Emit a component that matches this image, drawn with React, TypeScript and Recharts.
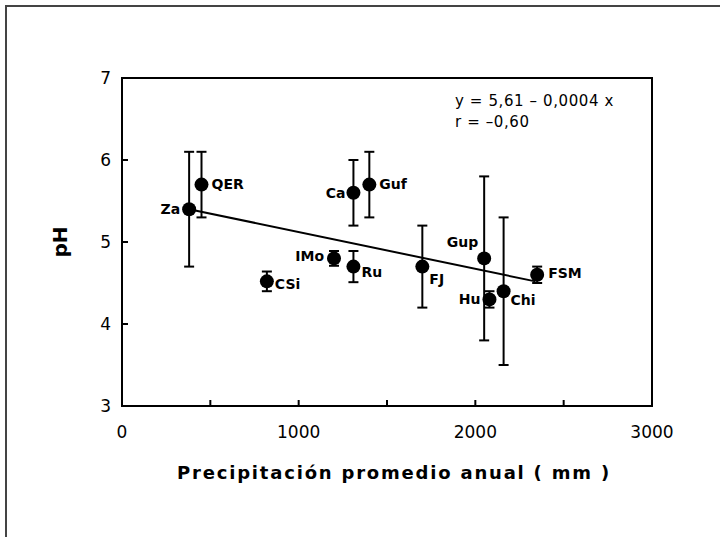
import React from 'react';
import {
  ScatterChart,
  Scatter,
  XAxis,
  YAxis,
  ErrorBar,
  ReferenceArea,
  ReferenceLine,
} from 'recharts';

// sites
const sites = ['Za', 'QER', 'Ca', 'Guf', 'IMo', 'Ru', 'CSi', 'FJ', 'Gup', 'Hu', 'Chi', 'FSM'];
const precipitation = [380, 450, 1310, 1400, 1200, 1310, 820, 1700, 2050, 2080, 2160, 2350];
const phMean = [5.4, 5.7, 5.6, 5.7, 4.8, 4.7, 4.52, 4.7, 4.8, 4.3, 4.4, 4.6];
const phError = [0.7, 0.4, 0.4, 0.4, 0.09, 0.19, 0.12, 0.5, 1.0, 0.1, 0.9, 0.1];

// regression line as drawn
const fitX = [380, 2340];
const fitY = [5.4, 4.52];

const xTicks = [0, 500, 1000, 1500, 2000, 2500, 3000];
const yTicks = [3, 4, 5, 6, 7];

const data = sites.map((name, i) => ({
  name,
  x: precipitation[i],
  y: phMean[i],
  err: phError[i],
}));

const fitSegment = fitX.map((x, i) => ({ x, y: fitY[i] }));

// where each site label sits relative to its dot
const labelPos: Record<string, { dx: number; dy: number; anchor: 'start' | 'end' }> = {
  Za: { dx: -9, dy: 0, anchor: 'end' },
  QER: { dx: 10, dy: -1, anchor: 'start' },
  Ca: { dx: -8, dy: 0, anchor: 'end' },
  Guf: { dx: 10, dy: -1, anchor: 'start' },
  IMo: { dx: -10, dy: -2, anchor: 'end' },
  Ru: { dx: 8, dy: 5, anchor: 'start' },
  CSi: { dx: 8, dy: 3, anchor: 'start' },
  FJ: { dx: 7, dy: 12, anchor: 'start' },
  Gup: { dx: -6, dy: -16, anchor: 'end' },
  Hu: { dx: -9, dy: 0, anchor: 'end' },
  Chi: { dx: 7, dy: 9, anchor: 'start' },
  FSM: { dx: 11, dy: -2, anchor: 'start' },
};

const FONT = '"DejaVu Sans", sans-serif';

const Dot = (props: any) => {
  const { cx, cy, payload } = props;
  const lp = labelPos[payload.name];
  return (
    <g>
      <circle cx={cx} cy={cy} r={7} fill="#000" />
      <text
        x={cx + lp.dx}
        y={cy + lp.dy}
        textAnchor={lp.anchor}
        dominantBaseline="central"
        fontFamily={FONT}
        fontWeight="bold"
        fontSize={14}
        fill="#000"
      >
        {payload.name}
      </text>
    </g>
  );
};

const XTick = (props: any) => {
  const { x, y, payload } = props;
  return (
    <g>
      <line x1={x} y1={y} x2={x} y2={y - 6} stroke="#000" strokeWidth={2} />
      {payload.value % 1000 === 0 && (
        <text x={x} y={y + 32} textAnchor="middle" fontFamily={FONT} fontSize={17} fill="#000">
          {payload.value}
        </text>
      )}
    </g>
  );
};

const YTick = (props: any) => {
  const { x, y, payload } = props;
  return (
    <g>
      <line x1={x} y1={y} x2={x + 6} y2={y} stroke="#000" strokeWidth={2} />
      <text x={x - 11} y={y + 6} textAnchor="end" fontFamily={FONT} fontSize={17} fill="#000">
        {payload.value}
      </text>
    </g>
  );
};

export default function App() {
  return (
    <div style={{ position: 'absolute', left: 0, top: 0, width: 720, height: 537, background: '#fff' }}>
      <div
        style={{
          position: 'absolute',
          left: 5,
          top: 5,
          right: 0,
          bottom: 0,
          borderTop: '2px solid #444',
          borderLeft: '2px solid #444',
        }}
      />
      <ScatterChart width={720} height={537} margin={{ top: 78, right: 68, bottom: 0, left: 0 }}>
        <XAxis
          type="number"
          dataKey="x"
          domain={[0, 3000]}
          ticks={xTicks}
          axisLine={false}
          tickLine={false}
          tickSize={0}
          tickMargin={0}
          height={131}
          tick={<XTick />}
          label={{
            content: (p: any) => (
              <text
                x={p.viewBox.x + p.viewBox.width / 2 + 7}
                y={p.viewBox.y + 73}
                textAnchor="middle"
                fontFamily={FONT}
                fontWeight="bold"
                fontSize={18}
                letterSpacing={1.8}
                fill="#000"
              >
                Precipitación promedio anual ( mm )
              </text>
            ),
          }}
        />
        <YAxis
          type="number"
          dataKey="y"
          domain={[3, 7]}
          ticks={yTicks}
          axisLine={false}
          tickLine={false}
          tickSize={0}
          tickMargin={0}
          width={122}
          tick={<YTick />}
          label={{
            content: (p: any) => {
              const cx = 60;
              const cy = p.viewBox.y + p.viewBox.height / 2;
              return (
                <text
                  x={cx}
                  y={cy}
                  textAnchor="middle"
                  dominantBaseline="central"
                  transform={`rotate(-90, ${cx}, ${cy})`}
                  fontFamily={FONT}
                  fontWeight="bold"
                  fontSize={20}
                  fill="#000"
                >
                  pH
                </text>
              );
            },
          }}
        />
        <ReferenceArea x1={0} x2={3000} y1={3} y2={7} fill="none" stroke="#000" strokeWidth={2} />
        <ReferenceLine segment={fitSegment} stroke="#000" strokeWidth={2} />
        <Scatter data={data} shape={<Dot />} isAnimationActive={false}>
          <ErrorBar dataKey="err" direction="y" width={5} strokeWidth={2} stroke="#000" />
        </Scatter>
      </ScatterChart>
      <div
        style={{
          position: 'absolute',
          left: 455,
          top: 91,
          fontFamily: FONT,
          fontSize: 15,
          letterSpacing: 0.6,
          lineHeight: '21px',
          color: '#000',
          whiteSpace: 'pre',
        }}
      >
        {'y = 5,61 – 0,0004 x\nr = –0,60'}
      </div>
    </div>
  );
}
